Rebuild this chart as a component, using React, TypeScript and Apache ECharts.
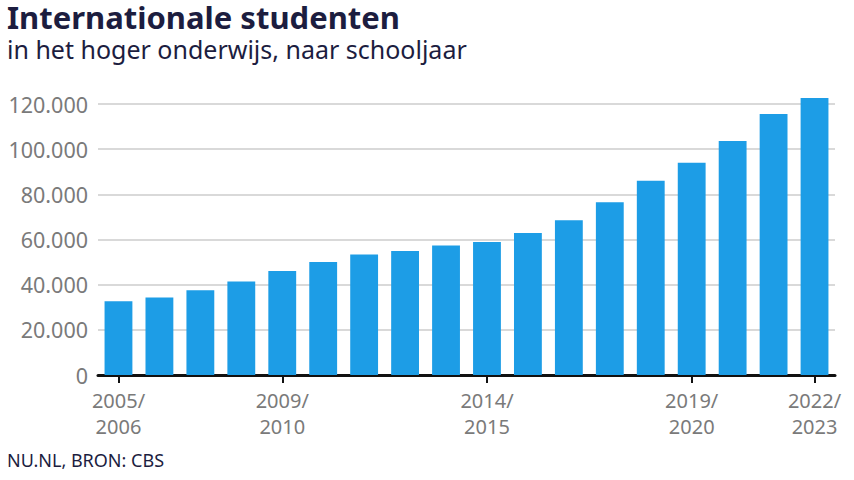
import React, { useEffect, useRef } from "react";
import * as echarts from "echarts";

const categories = [
  "2005/\n2006", "2006/\n2007", "2007/\n2008", "2008/\n2009", "2009/\n2010",
  "2010/\n2011", "2011/\n2012", "2012/\n2013", "2013/\n2014", "2014/\n2015",
  "2015/\n2016", "2016/\n2017", "2017/\n2018", "2018/\n2019", "2019/\n2020",
  "2020/\n2021", "2021/\n2022", "2022/\n2023",
];
const students = [
  32650, 34290, 37520, 41370, 46100, 50090, 53320, 54950, 57300, 58940,
  62920, 68500, 76460, 86060, 94030, 103630, 115580, 122650,
];
const labeledIndices = [0, 4, 9, 14, 17];
const yTicks = { min: 0, max: 120000, interval: 20000 };

const title = "Internationale studenten";
const subtitle = "in het hoger onderwijs, naar schooljaar";
const source = "NU.NL, BRON: CBS";

export default function App() {
  const ref = useRef<HTMLDivElement>(null);
  useEffect(() => {
    if (!ref.current) return;
    const chart = echarts.init(ref.current, null, { renderer: "svg" });
    const showIdx = (i: number) => labeledIndices.includes(i);
    chart.setOption({
      animation: false,
      backgroundColor: "#ffffff",
      textStyle: { fontFamily: "Noto Sans" },
      graphic: [
        {
          type: "text", left: 7, top: 1,
          style: { text: title, font: "bold 31px 'Noto Sans'", fill: "#1c1d3f" },
        },
        {
          type: "text", left: 7, top: 36,
          style: { text: subtitle, font: "25px 'Noto Sans'", fill: "#1c1d3f" },
        },
        {
          type: "text", left: 7, top: 451,
          style: { text: source, font: "18px 'Noto Sans'", fill: "#1c1d3f" },
        },
      ],
      grid: { left: 98, right: 19, top: 104, bottom: 105, containLabel: false },
      xAxis: {
        type: "category",
        data: categories,
        axisLine: { show: true, lineStyle: { color: "#111111", width: 3 } },
        axisTick: {
          show: true, alignWithLabel: true, length: 8,
          interval: (i: number) => showIdx(i),
          lineStyle: { color: "#111111", width: 2 },
        },
        axisLabel: {
          interval: (i: number) => showIdx(i),
          color: "#7a7a7a", fontSize: 20, lineHeight: 26, margin: 12,
          fontFamily: "Noto Sans",
        },
      },
      yAxis: {
        type: "value",
        min: yTicks.min, max: yTicks.max, interval: yTicks.interval,
        axisLine: { show: false },
        axisTick: { show: false },
        splitLine: { lineStyle: { color: "#d9d9d9", width: 2 } },
        axisLabel: {
          color: "#7a7a7a", fontSize: 21.5, margin: 10, fontFamily: "Noto Sans",
          padding: [0, 0, 9, 0],
          formatter: (v: number) => v.toLocaleString("nl-NL"),
        },
      },
      series: [
        {
          type: "bar",
          data: students,
          clip: false,
          barCategoryGap: "32%",
          itemStyle: { color: "#1d9de6" },
        },
      ],
    });
    return () => chart.dispose();
  }, []);
  return <div ref={ref} style={{ width: 854, height: 480, position: "absolute", left: 0, top: 0 }} />;
}
